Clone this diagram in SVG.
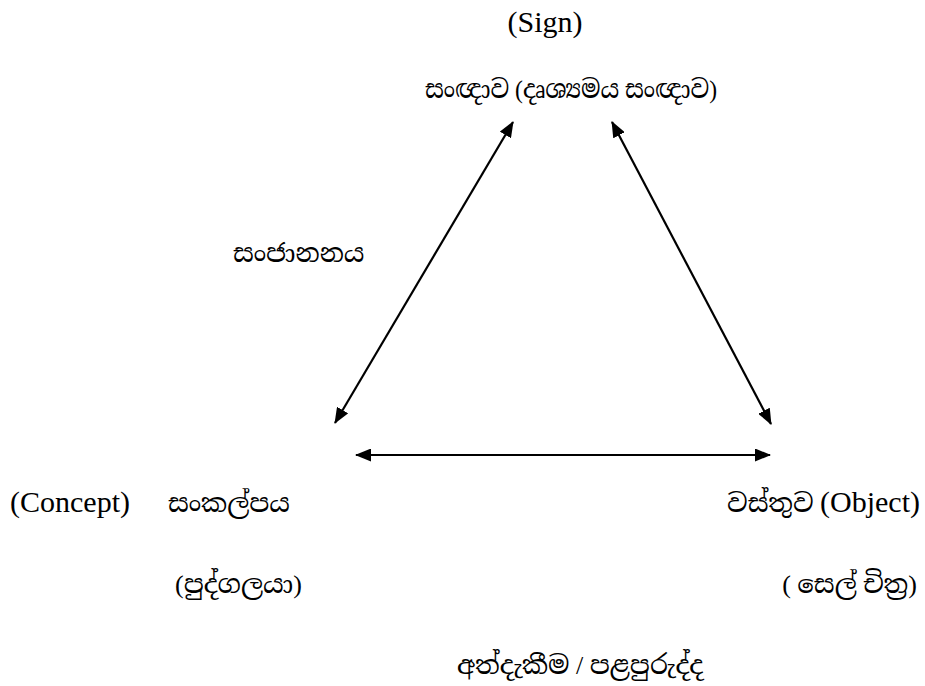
<svg xmlns="http://www.w3.org/2000/svg" width="925" height="686" viewBox="0 0 925 686">
  <defs>
    <marker id="ah" viewBox="0 0 16 13" markerWidth="16" markerHeight="13" refX="15" refY="6.5" orient="auto-start-reverse" markerUnits="userSpaceOnUse">
      <path d="M0,0 L16,6.5 L0,13 z" fill="#000"/>
    </marker>
    <style>
      .t { font-family: "Liberation Serif", "Noto Serif Sinhala", "Noto Sans Sinhala", "Iskoola Pota", serif; font-size: 26px; fill: #000; }
      .l { font-size: 30px; }
      .c { stroke: #000; stroke-width: 2.2; fill: none; marker-start: url(#ah); marker-end: url(#ah); }
    </style>
  </defs>
  <rect width="925" height="686" fill="#fff"/>
  <g id="connectors">
    <line class="c" x1="513" y1="122" x2="335" y2="423"/>
    <line class="c" x1="612" y1="122" x2="771" y2="424"/>
    <line class="c" x1="356" y1="455" x2="770" y2="455"/>
  </g>
  <g id="sign">
    <text class="t l" x="545" y="32" text-anchor="middle">(Sign)</text>
    <text class="t" x="425" y="98" textLength="292" lengthAdjust="spacingAndGlyphs">සංඥාව (දෘශ්‍යමය සංඥාව)</text>
  </g>
  <g id="cognition">
    <text class="t" x="233" y="262">සංජානනය</text>
  </g>
  <g id="concept">
    <text class="t l" x="10" y="512">(Concept)</text>
    <text class="t" x="168" y="512">සංකල්පය</text>
    <text class="t" x="175" y="593">(පුද්ගලයා)</text>
  </g>
  <g id="object">
    <text class="t" x="920" y="512" text-anchor="end">වස්තුව <tspan class="l">(Object)</tspan></text>
    <text class="t" x="917" y="593" text-anchor="end">( සෙල් චිත්‍ර)</text>
  </g>
  <g id="experience">
    <text class="t" x="580" y="674" text-anchor="middle">අත්දැකීම / පළපුරුද්ද</text>
  </g>
</svg>
